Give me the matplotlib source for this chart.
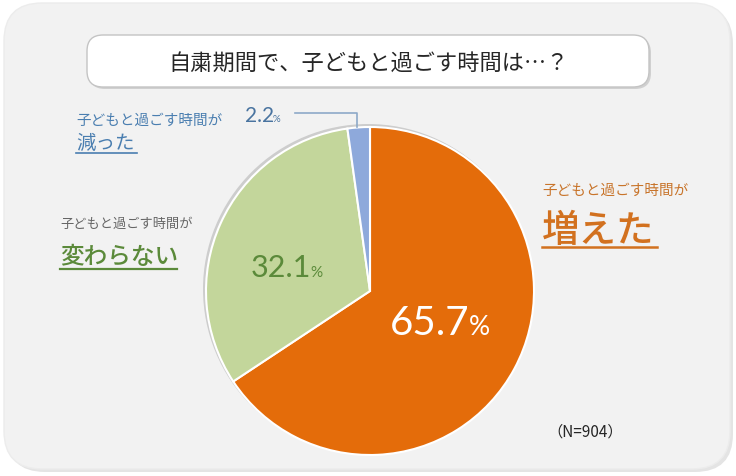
import matplotlib
matplotlib.use("Agg")
import matplotlib.pyplot as plt
from matplotlib.patches import FancyBboxPatch, Circle

plt.rcParams['font.family'] = ['Noto Sans CJK JP', 'DejaVu Sans']

# ------------------------
# データ
# ------------------------
categories = ["増えた", "変わらない", "減った"]
values = [65.7, 32.1, 2.2]
value_labels = ["65.7", "32.1", "2.2"]
n_total = 904
title = "自粛期間で、子どもと過ごす時間は…？"
prefix = "子どもと過ごす時間が"

slice_colors = ["#E46C0A", "#C3D69B", "#8EA9DB"]

W, H = 736, 476

def py(y):
    # 画像のピクセル座標(上から) -> データ座標
    return H - y

fig = plt.figure(figsize=(W / 100, H / 100), dpi=100)
ax = fig.add_axes([0, 0, 1, 1])
ax.set_xlim(0, W)
ax.set_ylim(0, H)
ax.set_aspect("equal")
ax.axis("off")
fig.patch.set_facecolor("white")

# 背景パネル
shadow = FancyBboxPatch((7, py(472)), 726, 466, boxstyle="round,pad=0,rounding_size=38",
                        facecolor="#e4e4e4", edgecolor="none", zorder=0)
ax.add_patch(shadow)
panel = FancyBboxPatch((4, py(469)), 726, 466, boxstyle="round,pad=0,rounding_size=38",
                       facecolor="#f2f2f2", edgecolor="#ececec", linewidth=1, zorder=1)
ax.add_patch(panel)

# タイトルボックス
tshadow = FancyBboxPatch((89, py(89)), 562, 52, boxstyle="round,pad=0,rounding_size=16",
                         facecolor="#d0d0d0", edgecolor="none", zorder=2)
ax.add_patch(tshadow)
tbox = FancyBboxPatch((87, py(87)), 562, 52, boxstyle="round,pad=0,rounding_size=16",
                      facecolor="white", edgecolor="#c4c4c4", linewidth=1, zorder=3)
ax.add_patch(tbox)
ax.text(369, py(63), title, fontsize=16, ha="center", va="center", color="#262626", zorder=4)

# 円グラフ
cx, cy, r = 370, py(291), 164
ax.add_patch(Circle((cx - 2, cy + 2), r + 1, facecolor="#cdcdcd", edgecolor="none", zorder=4))
wedges, _ = ax.pie(values, colors=slice_colors, startangle=90, counterclock=False,
                   center=(cx, cy), radius=r, frame=True,
                   wedgeprops=dict(edgecolor="white", linewidth=1.5))
for w in wedges:
    w.set_zorder(5)
ax.set_xlim(0, W)
ax.set_ylim(0, H)
ax.axis("off")

num_font = ["Lato", "DejaVu Sans"]

# 値ラベル
def value_text(x, y, num, size, psize, color):
    ax.text(x, py(y), num, fontsize=size, ha="right", va="baseline", color=color,
            family=num_font, zorder=6)
    ax.text(x - 1, py(y), "%", fontsize=psize, ha="left", va="baseline", color=color,
            family=num_font, zorder=6)

value_text(470, 335, value_labels[0], 29, 19, "white")
value_text(311, 277, value_labels[1], 22, 11, "#5b8a3a")
value_text(274, 122, value_labels[2], 15, 7, "#4a74a0")

# 2.2% の引き出し線
ax.plot([295, 357, 357], [py(113), py(113), py(127)], color="#8ea9c8", linewidth=1.2, zorder=6)

# カテゴリラベル
ax.text(76, py(125), prefix, fontsize=10.5, ha="left", va="baseline", color="#4a7eb0", zorder=6)
ax.text(76, py(149), categories[2], fontsize=14, ha="left", va="baseline", color="#4a7eb0", zorder=6)
ax.plot([76, 137], [py(153), py(153)], color="#4a7eb0", linewidth=1.2, zorder=6)

ax.text(60, py(228), prefix, fontsize=9.5, ha="left", va="baseline", color="#666666", zorder=6)
ax.text(60, py(264), categories[1], fontsize=17, ha="left", va="baseline", color="#5b8a3a",
        weight="medium", zorder=6)
ax.plot([60, 177], [py(269), py(269)], color="#5b8a3a", linewidth=1.6, zorder=6)

ax.text(542, py(195), prefix, fontsize=10.5, ha="left", va="baseline", color="#c8742a", zorder=6)
ax.text(542, py(242), categories[0], fontsize=27, ha="left", va="baseline", color="#d2711f",
        weight="medium", zorder=6)
ax.plot([542, 657], [py(247), py(247)], color="#d2711f", linewidth=1.8, zorder=6)

ax.text(547, py(432), f"（N={n_total}）", fontsize=11, ha="left", va="center", color="#262626", zorder=6)

fig.savefig("out.png", dpi=100, facecolor="white")
